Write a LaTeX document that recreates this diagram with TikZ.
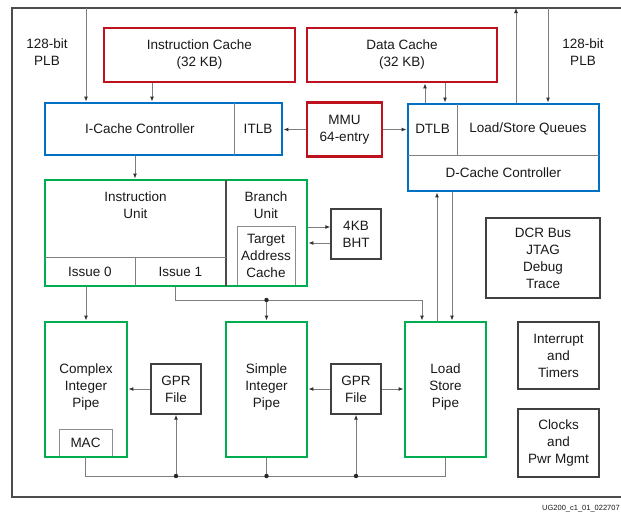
\documentclass[tikz,border=0pt]{standalone}
\usepackage{fontspec}
\setmainfont{Liberation Sans}
\usetikzlibrary{arrows.meta,calc,positioning}
\definecolor{cpured}{RGB}{190,18,30}
\definecolor{cpublue}{RGB}{0,112,196}
\definecolor{cpugreen}{RGB}{0,174,80}
\definecolor{wiregray}{RGB}{125,125,125}

\begin{document}
\begin{tikzpicture}[x=1pt,y=-1pt,>={Latex[length=5pt,width=4pt,color=black!80]},
  every node/.style={font=\fontsize{13.5}{17}\selectfont,align=center,inner sep=0pt,text=black!90},
  redbox/.style={draw=cpured,line width=2.8pt},
  bluebox/.style={draw=cpublue,line width=2.8pt},
  greenbox/.style={draw=cpugreen,line width=2.8pt},
  plainbox/.style={draw=black!75,line width=1.3pt},
  subbox/.style={draw=black!45,line width=0.9pt},
  divider/.style={draw=black!50,line width=0.9pt},
  wire/.style={draw=wiregray,line width=1pt},
  joint/.style={fill=black!85}]
\clip (0,0) rectangle (621,514);
\fill[white] (0,0) rectangle (621,514);
\draw[black!70,line width=1.4pt] (12,8) rectangle (640,497);

% caches and controllers
\node[redbox,minimum width=191pt,minimum height=54pt] (icache) at (199.5,55) {Instruction Cache\\(32 KB)};
\node[redbox,minimum width=190pt,minimum height=54pt] (dcache) at (402,55) {Data Cache\\(32 KB)};
\node[bluebox,minimum width=237pt,minimum height=52pt] (iccc) at (163.5,129) {};
\draw[divider] (234,103) -- (234,155);
\node (iclbl) at (140,129) {I-Cache Controller};
\node (itlb) at (258,129) {ITLB};
\node[redbox,minimum width=75pt,minimum height=54pt] (mmu) at (344.5,129.5) {MMU\\64-entry};
\node[bluebox,minimum width=191pt,minimum height=87pt] (dcc) at (503.5,147.5) {};
\draw[divider] (408,155) -- (599,155);
\draw[divider] (457,104) -- (457,155);
\node (dtlb) at (432.5,129) {DTLB};
\node (lsq) at (528,129) {Load/Store Queues};
\node (dcclbl) at (503.5,173) {D-Cache Controller};

% instruction unit
\node[subbox,minimum width=58pt,minimum height=60pt] (tac) at (266,256) {Target\\Address\\Cache};
\node[greenbox,minimum width=262pt,minimum height=106pt] (iu) at (176,233) {};
\draw[black!70,line width=1.2pt] (226,180) -- (226,286);
\draw[divider] (45,257) -- (226,257);
\draw[divider] (135,257) -- (135,286);
\node (iulbl) at (135.5,205) {Instruction\\Unit};
\node (bulbl) at (266,205) {Branch\\Unit};
\node (issue0) at (90,272) {Issue 0};
\node (issue1) at (180.5,272) {Issue 1};
\node[plainbox,minimum width=50pt,minimum height=50pt] (bht) at (356,234) {4KB\\BHT};
\node[plainbox,minimum width=114pt,minimum height=80pt] (dcr) at (543,258) {DCR Bus\\JTAG\\Debug\\Trace};

% pipes
\node[subbox,minimum width=53pt,minimum height=28pt] (mac) at (85.5,443) {MAC};
\node[greenbox,minimum width=82pt,minimum height=135pt] (cip) at (86,389.5) {};
\node (ciplbl) at (86,387) {Complex\\Integer\\Pipe};
\node[plainbox,minimum width=50pt,minimum height=50pt] (gpra) at (176,389) {GPR\\File};
\node[greenbox,minimum width=81pt,minimum height=135pt] (sip) at (266.5,389.5) {};
\node (siplbl) at (266.5,387) {Simple\\Integer\\Pipe};
\node[plainbox,minimum width=50pt,minimum height=50pt] (gprb) at (356,389) {GPR\\File};
\node[greenbox,minimum width=81pt,minimum height=135pt] (lsp) at (445.5,389.5) {};
\node (lsplbl) at (445.5,387) {Load\\Store\\Pipe};
\node[plainbox,minimum width=81pt,minimum height=67pt] (intr) at (558.5,355.5) {Interrupt\\and\\Timers};
\node[plainbox,minimum width=81pt,minimum height=68pt] (clk) at (558.5,443) {Clocks\\and\\Pwr Mgmt};

% labels
\node (plbl) at (47,52) {128-bit\\PLB};
\node (plbr) at (583,52) {128-bit\\PLB};
\node[anchor=west,font=\fontsize{7.5}{8}\selectfont] (docid) at (542,509) {UG200\_c1\_01\_022707};

% bus taps
\coordinate (plbin) at (86,8);
\coordinate (plbup) at (516,8);
\coordinate (plbdn) at (548,8);
\coordinate (icx) at (152,0);
\coordinate (iux) at (135,0);
\coordinate (dcup) at (425,0);
\coordinate (dcdn) at (445,0);
\coordinate (i1x) at (175,0);
\coordinate (lsx) at (422,0);
\coordinate (lsup) at (437,0);
\coordinate (lsdn) at (452,0);
\coordinate (bhtin) at (0,227);
\coordinate (bhtout) at (0,243);
\coordinate (bus1) at (0,300);
\coordinate (bus2) at (0,476);

% connectors
\draw[wire,->] (plbin) -- (plbin |- iccc.north);
\draw[wire,->] (icache.south -| icx) -- (iccc.north -| icx);
\draw[wire,->] (mmu.west) -- (mmu.west -| iccc.east);
\draw[wire,->] (mmu.east) -- (mmu.east -| dcc.west);
\draw[wire,->] (dcc.north -| dcup) -- (dcache.south -| dcup);
\draw[wire,->] (dcache.south -| dcdn) -- (dcc.north -| dcdn);
\draw[wire,->] (dcc.north -| plbup) -- (plbup);
\draw[wire,->] (plbdn) -- (dcc.north -| plbdn);
\draw[wire,->] (iccc.south -| iux) -- (iu.north -| iux);
\draw[wire,->] (iu.east |- bhtin) -- (bht.west |- bhtin);
\draw[wire,->] (bht.west |- bhtout) -- (iu.east |- bhtout);
\draw[wire,->] (iu.south -| cip.north) -- (cip.north);
\draw[wire,->] (iu.south -| i1x) |- (bus1 -| lsx) -- (lsp.north -| lsx);
\draw[wire,->] (bus1 -| sip.north) -- (sip.north);
\draw[wire,->] (lsp.north -| lsup) -- (dcc.south -| lsup);
\draw[wire,->] (dcc.south -| lsdn) -- (lsp.north -| lsdn);
\draw[wire,->] (gpra.west) -- (gpra.west -| cip.east);
\draw[wire,->] (gprb.west) -- (gprb.west -| sip.east);
\draw[wire,->] (gprb.east) -- (gprb.east -| lsp.west);
\draw[wire] (mac.south) |- (bus2 -| lsp.south) -- (lsp.south);
\draw[wire] (sip.south) -- (sip.south |- bus2);
\draw[wire,->] (bus2 -| gpra.south) -- (gpra.south);
\draw[wire,->] (bus2 -| gprb.south) -- (gprb.south);
\fill[joint] (bus1 -| sip.north) circle (2.2pt);
\fill[joint] (bus2 -| gpra.south) circle (2.2pt);
\fill[joint] (bus2 -| sip.south) circle (2.2pt);
\fill[joint] (bus2 -| gprb.south) circle (2.2pt);
\end{tikzpicture}
\end{document}
